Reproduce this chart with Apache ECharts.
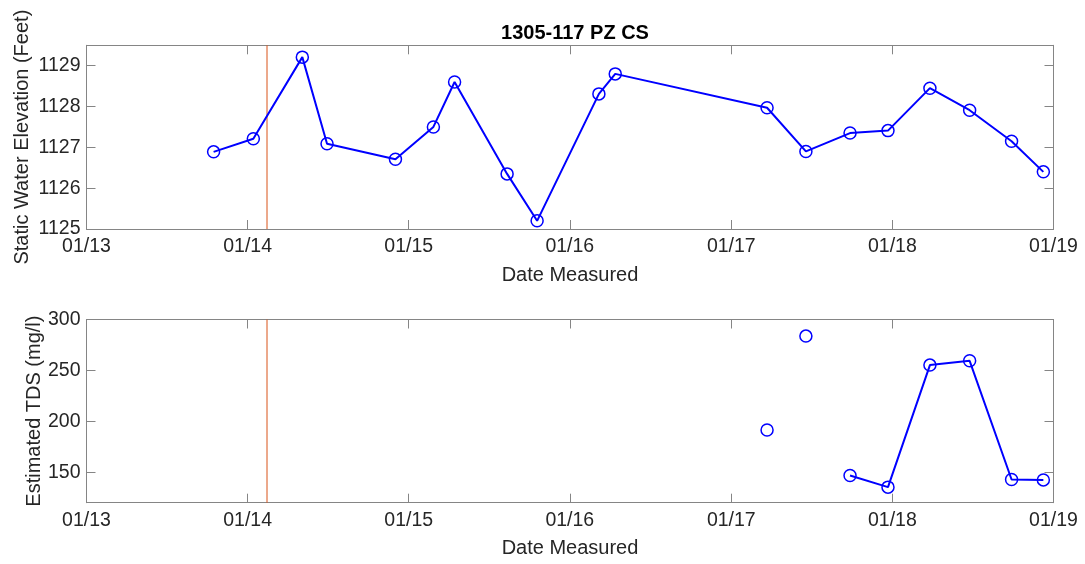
<!DOCTYPE html>
<html>
<head>
<meta charset="utf-8">
<title>1305-117 PZ CS</title>
<script src="https://cdn.jsdelivr.net/npm/echarts@6/dist/echarts.min.js"></script>
<style>
  html, body { margin: 0; padding: 0; background: #ffffff; }
  #chart { width: 1085px; height: 564px; }
</style>
</head>
<body>
<div id="chart"></div>
<script>
// Water level readings (feet)
const levelDates = [
  '2013-10-16', '2014-01-14', '2014-05-05', '2014-06-30', '2014-12-02',
  '2015-02-26', '2015-04-15', '2015-08-12', '2015-10-19', '2016-03-07',
  '2016-04-13', '2017-03-23', '2017-06-19', '2017-09-27', '2017-12-22',
  '2018-03-27', '2018-06-25', '2018-09-28', '2018-12-09'
];
const levelValues = [
  1126.89, 1127.21, 1129.21, 1127.09, 1126.71,
  1127.50, 1128.60, 1126.35, 1125.20, 1128.31,
  1128.80, 1127.97, 1126.90, 1127.35, 1127.41,
  1128.45, 1127.91, 1127.15, 1126.40
];

// Estimated TDS readings (mg/l); the line is broken after the listed indexes
const tdsDates = [
  '2017-03-23', '2017-06-19', '2017-09-27', '2017-12-22',
  '2018-03-27', '2018-06-25', '2018-09-28', '2018-12-09'
];
const tdsValues = [191.4, 283.7, 146.8, 135.3, 255.2, 259.4, 142.8, 142.4];
const tdsGapAfter = [0, 1];

// Event marker date (vertical line)
const eventDate = '2014-02-14';

// Axis ticks
const xTickDates = ['2013-01-01', '2014-01-01', '2015-01-01', '2016-01-01',
                    '2017-01-01', '2018-01-01', '2019-01-01'];
const xTickLabels = ['01/13', '01/14', '01/15', '01/16', '01/17', '01/18', '01/19'];
const levelTicks = [1125, 1126, 1127, 1128, 1129];
const tdsTicks = [150, 200, 250, 300];

const xMin = '2013-01-01', xMax = '2019-01-01';
const levelMin = 1125, levelMax = 1129.5;
const tdsMin = 120, tdsMax = 300;

const FONT = "'Liberation Sans', Arial, Helvetica, sans-serif";
const BOX = '#858585';
const TEXT = '#262626';
const BLUE = '#0000ff';
const RED = '#D95319';

// Dates are placed on a numeric axis as UTC milliseconds
function toTime(s) {
  const p = s.split('-').map(Number);
  return Date.UTC(p[0], p[1] - 1, p[2]);
}
const tickTime = xTickDates.map(toTime);
function xLabel(v) {
  const i = tickTime.indexOf(v);
  return i >= 0 ? xTickLabels[i] : '';
}

const levelData = levelDates.map((d, i) => [toTime(d), levelValues[i]]);
const tdsData = [];
tdsDates.forEach((d, i) => {
  tdsData.push([toTime(d), tdsValues[i]]);
  if (tdsGapAfter.indexOf(i) >= 0) tdsData.push([toTime(d), null]);
});

const grids = [
  { left: 86.5, top: 45.3, width: 967, height: 183.7 },
  { left: 86.5, top: 319.5, width: 967, height: 183.2 }
];

function xAxes(gridIndex) {
  const common = {
    type: 'value', gridIndex: gridIndex, min: toTime(xMin), max: toTime(xMax),
    splitLine: { show: false },
    axisLine: { show: true, lineStyle: { color: BOX, width: 1 } },
    axisTick: { show: true, inside: true, length: 9, customValues: tickTime,
                lineStyle: { color: BOX, width: 1 } },
    minorTick: { show: false }
  };
  return [
    Object.assign({}, common, {
      position: 'bottom',
      name: 'Date Measured', nameLocation: 'middle', nameGap: 36,
      nameMoveOverlap: false,
      nameTextStyle: { fontFamily: FONT, fontSize: 20, color: TEXT },
      axisLabel: { show: true, customValues: tickTime, formatter: xLabel,
                   fontFamily: FONT, fontSize: 19.5, color: TEXT, margin: 8,
                   hideOverlap: false }
    }),
    Object.assign({}, common, {
      position: 'top',
      axisLabel: { show: false }
    })
  ];
}

function yAxes(gridIndex, min, max, ticks, name, gap) {
  const common = {
    type: 'value', gridIndex: gridIndex, min: min, max: max,
    splitLine: { show: false },
    axisLine: { show: true, lineStyle: { color: BOX, width: 1 } },
    axisTick: { show: true, inside: true, length: 9, customValues: ticks,
                lineStyle: { color: BOX, width: 1 } }
  };
  return [
    Object.assign({}, common, {
      position: 'left',
      name: name, nameLocation: 'middle', nameGap: gap, nameRotate: 90,
      nameMoveOverlap: false,
      nameTextStyle: { fontFamily: FONT, fontSize: 20, color: TEXT },
      axisLabel: { show: true, customValues: ticks, formatter: v => String(v),
                   fontFamily: FONT, fontSize: 19.5, color: TEXT, margin: 6 }
    }),
    Object.assign({}, common, {
      position: 'right',
      axisLabel: { show: false }
    })
  ];
}

const seriesStyle = {
  type: 'line',
  symbol: 'circle',
  symbolSize: 12,
  showAllSymbol: true,
  connectNulls: false,
  lineStyle: { color: BLUE, width: 2 },
  itemStyle: { color: 'rgba(0,0,0,0)', borderColor: BLUE, borderWidth: 1.5 },
  emphasis: { disabled: true },
  z: 3
};

// Vertical event line spanning the full height of a panel
function eventSeries(xIdx, yIdx, lo, hi) {
  return {
    type: 'line', xAxisIndex: xIdx, yAxisIndex: yIdx,
    data: [[toTime(eventDate), lo], [toTime(eventDate), hi]],
    symbol: 'none', silent: true,
    lineStyle: { color: RED, width: 1 },
    emphasis: { disabled: true },
    z: 2
  };
}

const chart = echarts.init(document.getElementById('chart'), null, { renderer: 'canvas' });
chart.setOption({
  animation: false,
  backgroundColor: '#ffffff',
  title: {
    text: '1305-117 PZ CS',
    left: 570, top: 18, textAlign: 'center',
    textStyle: { fontFamily: FONT, fontSize: 20, fontWeight: 'bold', color: '#000000' }
  },
  grid: grids.map(g => Object.assign({ containLabel: false, outerBoundsMode: 'none', show: false }, g)),
  xAxis: xAxes(0).concat(xAxes(1)),
  yAxis: yAxes(0, levelMin, levelMax, levelTicks, 'Static Water Elevation (Feet)', 54)
    .concat(yAxes(1, tdsMin, tdsMax, tdsTicks, 'Estimated TDS (mg/l)', 42)),
  series: [
    eventSeries(0, 0, levelMin, levelMax),
    Object.assign({}, seriesStyle, {
      name: 'Static Water Elevation', xAxisIndex: 0, yAxisIndex: 0,
      data: levelData
    }),
    eventSeries(2, 2, tdsMin, tdsMax),
    Object.assign({}, seriesStyle, {
      name: 'Estimated TDS', xAxisIndex: 2, yAxisIndex: 2,
      data: tdsData
    })
  ]
});
</script>
</body>
</html>
